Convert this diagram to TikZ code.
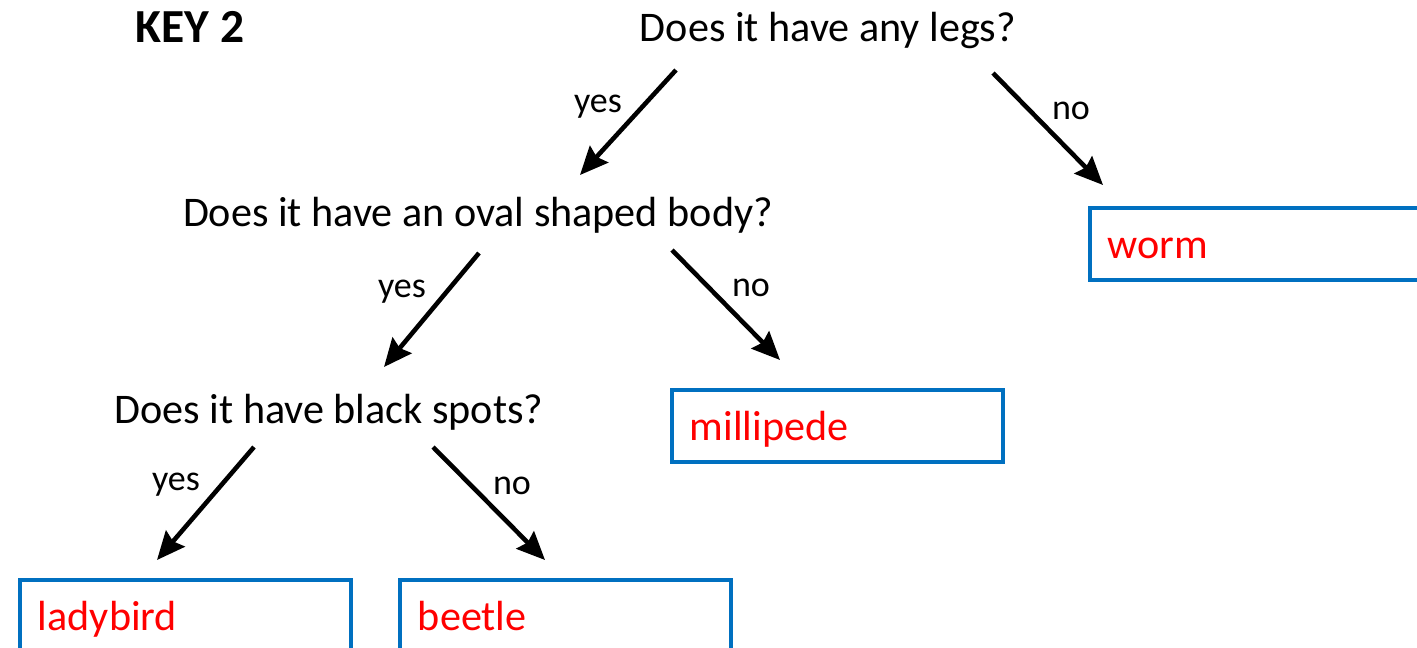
\documentclass[tikz,border=0pt]{standalone}
\usepackage{fontspec}
\setmainfont{Carlito}
\usetikzlibrary{arrows.meta, positioning}
\definecolor{boxblue}{RGB}{0,112,192}

\begin{document}
\begin{tikzpicture}[% styles used in image code
   x = 0.02cm, y = -0.02cm, % one unit is one pixel of the reference
   > = {Stealth[length=16pt, width=14pt, inset=2pt]},
question/.style = {font=\fontsize{24}{28}\selectfont, inner sep=0pt},
  answer/.style = {font=\fontsize{20.5}{24}\selectfont, inner sep=0pt},
  animal/.style = {draw=boxblue, line width=2.2pt, text=red,
                   font=\fontsize{24}{28}\selectfont,
                   minimum height=1.44cm, text width=5.9cm,
                   text height=18pt, text depth=2pt,
                   inner xsep=0.36cm, align=left, anchor=west},
   arrow/.style = {->, line width=2.6pt}
                    ]
	% page frame
	\useasboundingbox (0,0) rectangle (1417,647);

	% title
	\node[font=\fontsize{27}{32}\selectfont\bfseries] (title) at (190,27) {KEY 2};

	% questions
	\node[question] (legs)  at (828,30)  {Does it have any legs?};
	\node[question] (oval)  at (478,215) {Does it have an oval shaped body?};
	\node[question] (spots) at (329,412) {Does it have black spots?};

	% animals
	\node[animal, text width=6.2cm] (worm) at (1088,244) {worm};
	\node[animal] (millipede) at (670,426)  {millipede};
	\node[animal] (ladybird)  at (18,616)   {ladybird};
	\node[animal] (beetle)    at (398,616)  {beetle};

	% arrow ends
	\coordinate (legs yes)  at (676,70);
	\coordinate (legs no)   at (993,73);
	\coordinate (oval in)   at (580,175);
	\coordinate (worm in)   at (1103,185);
	\coordinate (oval yes)  at (479,253);
	\coordinate (oval no)   at (672,250);
	\coordinate (spots in)  at (384,367);
	\coordinate (milli in)  at (780,360);
	\coordinate (spots yes) at (254,447);
	\coordinate (spots no)  at (433,447);
	\coordinate (lady in)   at (157,560);
	\coordinate (beetle in) at (545,560);

	% connectors
	\draw[arrow] (legs yes)  -- (oval in);
	\draw[arrow] (legs no)   -- (worm in);
	\draw[arrow] (oval yes)  -- (spots in);
	\draw[arrow] (oval no)   -- (milli in);
	\draw[arrow] (spots yes) -- (lady in);
	\draw[arrow] (spots no)  -- (beetle in);

	% labels
	\node[answer] (l1) at (598,107)  {yes};
	\node[answer] (l2) at (1071,111) {no};
	\node[answer] (l3) at (402,292)  {yes};
	\node[answer] (l4) at (751,288)  {no};
	\node[answer] (l5) at (176,485)  {yes};
	\node[answer] (l6) at (512,486)  {no};
\end{tikzpicture}
\end{document}
